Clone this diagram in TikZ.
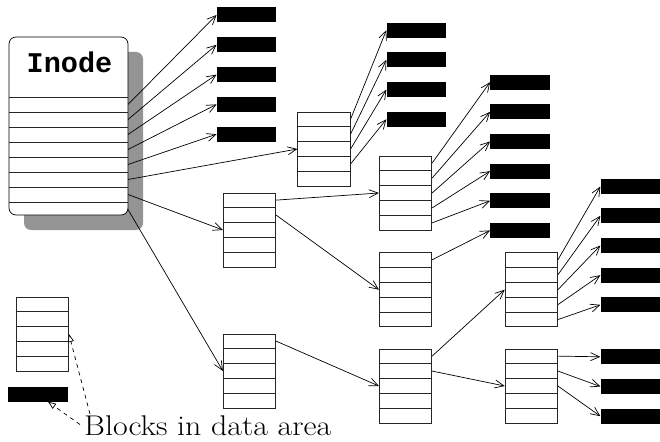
\documentclass[tikz,border=0pt]{standalone}
\usepackage{fontspec}
\newfontfamily\inodefont{Liberation Mono}
\newfontfamily\keyfont[FakeStretch=1.12]{Latin Modern Roman}
\usetikzlibrary{calc}
\usetikzlibrary{arrows.meta}

\tikzset{
  ptrbox/.style={draw=black!85, fill=white, minimum width=52.5pt, minimum height=74pt, inner sep=0pt, line width=0.7pt},
  datablk/.style={fill=black, minimum width=59.5pt, minimum height=15pt, inner sep=0pt},
  ptr/.style={-{Straight Barb[length=9pt,width=8pt]}, line width=0.7pt},
  hint/.style={dash pattern=on 4pt off 4pt, -{Triangle[open,length=8pt,width=6pt,fill=white]}, line width=0.7pt}
}

% a block of five pointers, with one coordinate per row on its right side
\newcommand{\ptrblock}[3]{%
  \node[ptrbox] (#1) at (#2,#3) {};
  \foreach \k in {1,...,4}
    \draw[black!85, line width=0.7pt] ($(#1.north west)!\k/5!(#1.south west)$) -- ($(#1.north east)!\k/5!(#1.south east)$);
  \foreach \k in {1,...,5}
    \coordinate (#1-\k) at ($(#1.north east)!{(\k-0.5)/5}!(#1.south east)$);
}

\begin{document}
\begin{tikzpicture}[x=1pt,y=-1pt]
\useasboundingbox (0,0) rectangle (660,441);

% inode
\fill[black!42, rounded corners=7pt] (24,52) rectangle (143,230);
\node[draw, fill=white, rounded corners=7pt, minimum width=119pt, minimum height=178pt, inner sep=0pt, line width=0.7pt] (inode) at (68.5,126) {};
\node[anchor=base, inner sep=0pt] (title) at (69.5,73) {\inodefont\bfseries\fontsize{28.5}{28.5}\selectfont Inode};
\foreach \k in {0,...,7}
  \draw[black!85, line width=0.7pt] (9,{97+15*\k}) -- (128,{97+15*\k});
\foreach \k in {1,...,8}
  \coordinate (inode-\k) at (128,{89.5+15*\k});

% data blocks
\foreach \k in {1,...,5}
  \node[datablk] (da-\k) at (246.5,{15+29.8*(\k-1)}) {};
\foreach \k in {1,...,4}
  \node[datablk] (db-\k) at (416.3,{30.2+29.7*(\k-1)}) {};
\foreach \k in {1,...,6}
  \node[datablk] (dc-\k) at (520,{82.2+29.65*(\k-1)}) {};
\foreach \k/\y in {1/186.5, 2/215.8, 3/245.5, 4/275.2, 5/304.8, 6/356.8, 7/386.5, 8/416.2}
  \node[datablk] (dd-\k) at (630.3,\y) {};

% pointer blocks
\ptrblock{pa}{324}{149}
\ptrblock{pb}{249.5}{230}
\ptrblock{pc}{249.5}{371}
\ptrblock{pd}{405.5}{193}
\ptrblock{pe}{405.5}{289.7}
\ptrblock{pf}{531.3}{289.7}
\ptrblock{pg}{405.5}{386}
\ptrblock{ph}{531.3}{386}

\foreach \k in {1,...,5}
  \draw[ptr] (inode-\k) -- (da-\k.west);
\draw[ptr] (inode-6) -- (pa.west);
\draw[ptr] (inode-7) -- (pb.west);
\draw[ptr] (inode-8) -- (pc.west);

\foreach \k in {1,...,4}
  \draw[ptr] (pa-\k) -- (db-\k.west);
\draw[ptr] (pb-1) -- (pd.west);
\draw[ptr] (pb-2) -- (pe.west);
\foreach \k in {1,...,5}
  \draw[ptr] (pd-\k) -- (dc-\k.west);
\draw[ptr] (pe-1) -- (dc-6.west);

\draw[ptr] (pc-1) -- (pg.west);
\draw[ptr] (pg-1) -- (pf.west);
\draw[ptr] (pg-2) -- (ph.west);
\foreach \k in {1,...,5}
  \draw[ptr] (pf-\k) -- (dd-\k.west);
\foreach \k/\j in {1/6, 2/7, 3/8}
  \draw[ptr] (ph-\k) -- (dd-\j.west);

% key
\ptrblock{key}{42.3}{334}
\node[datablk, minimum width=60pt] (keyblk) at (38,394) {};
\node[anchor=base west, inner sep=0pt, font=\keyfont\fontsize{28.5}{28.5}\selectfont] (keytext) at (84,435.5) {Blocks in data area};
\draw[hint] ([xshift=6pt,yshift=1.5pt]keytext.north west) -- (key.east);
\draw[hint] ([xshift=-4pt,yshift=-9pt]keytext.north west) -- ([xshift=10pt]keyblk.south);
\end{tikzpicture}
\end{document}
